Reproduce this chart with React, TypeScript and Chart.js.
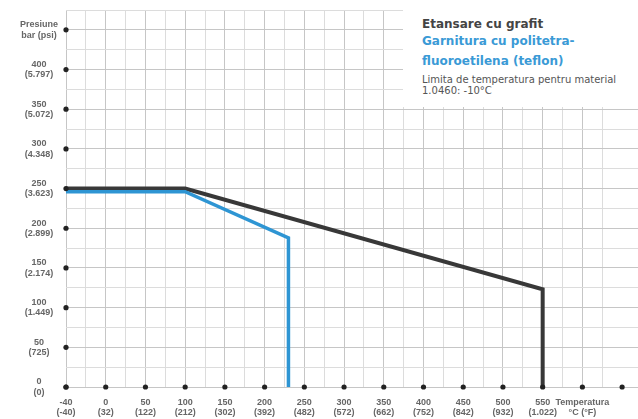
import React, { useEffect, useRef } from 'react';
import { Chart, registerables } from 'chart.js';

Chart.register(...registerables);

// Tick labels
const tempTicksC = ['-40', '0', '50', '100', '150', '200', '250', '300', '350', '400', '450', '500', '550', 'Temperatura', ''];
const tempTicksF = ['(-40)', '(32)', '(122)', '(212)', '(302)', '(392)', '(482)', '(572)', '(662)', '(752)', '(842)', '(932)', '(1.022)', '°C (°F)', ''];
const pressureTicksBar = ['0', '50', '100', '150', '200', '250', '300', '350', '400', 'Presiune'];
const pressureTicksPsi = ['(0)', '(725)', '(1.449)', '(2.174)', '(2.899)', '(3.623)', '(4.348)', '(5.072)', '(5.797)', 'bar (psi)'];

// Series: Etansare cu grafit
const graphiteTemp = [-40, 100, 550, 550];
const graphitePressure = [250, 250, 123, 0];
// Series: Garnitura cu politetrafluoroetilena (teflon)
const ptfeTemp = [-40, 100, 230, 230];
const ptfePressure = [246, 246, 188, 0];

// The temperature axis is drawn with equal spacing per tick: -40..0 and then 50 °C per step
const tempToAxis = (t: number) => (t <= 0 ? (t + 40) / 40 : 1 + t / 50);

const dotsPlugin = {
  id: 'axisDots',
  afterDraw(chart: any) {
    const { ctx, scales } = chart;
    const xs = scales.x;
    const ys = scales.y;
    ctx.save();
    ctx.fillStyle = '#222';
    const y0 = ys.getPixelForValue(0);
    const x0 = xs.getPixelForValue(0);
    for (let i = 0; i < tempTicksC.length; i++) {
      ctx.beginPath();
      ctx.arc(xs.getPixelForValue(i), y0, 2.6, 0, Math.PI * 2);
      ctx.fill();
    }
    for (let i = 0; i < pressureTicksBar.length; i++) {
      ctx.beginPath();
      ctx.arc(x0, ys.getPixelForValue(i * 50), 2.6, 0, Math.PI * 2);
      ctx.fill();
    }
    ctx.restore();
  },
};

export default function App() {
  const canvasRef = useRef<HTMLCanvasElement | null>(null);

  useEffect(() => {
    if (!canvasRef.current) return;
    const tickFont = { family: 'Liberation Sans', size: 9, weight: 'bold' as const, lineHeight: 1.15 };
    const chart = new Chart(canvasRef.current, {
      type: 'line',
      data: {
        datasets: [
          {
            label: 'Garnitura cu politetrafluoroetilena (teflon)',
            data: ptfeTemp.map((t, i) => ({ x: tempToAxis(t), y: ptfePressure[i] })),
            borderColor: '#2e95d3',
            borderWidth: 3.5,
            pointRadius: 0,
            tension: 0,
            clip: false,
            borderJoinStyle: 'miter',
          },
          {
            label: 'Etansare cu grafit',
            data: graphiteTemp.map((t, i) => ({ x: tempToAxis(t), y: graphitePressure[i] })),
            borderColor: '#383838',
            borderWidth: 4,
            pointRadius: 0,
            tension: 0,
            clip: false,
            borderJoinStyle: 'miter',
          },
        ],
      },
      options: {
        animation: false,
        responsive: true,
        maintainAspectRatio: false,
        layout: { padding: { top: 10, left: 0, right: 0, bottom: 0 } },
        plugins: {
          legend: { display: false },
          tooltip: { enabled: false },
        },
        scales: {
          x: {
            type: 'linear',
            min: 0,
            max: 14.4,
            border: { display: false },
            grid: {
              drawTicks: false,
              color: (c: any) => {
                const v = c.tick?.value;
                if (v === undefined) return 'transparent';
                if (Number.isInteger(v)) return '#c6c6c6';
                if (Number.isInteger(v * 2)) return '#dcdcdc';
                return 'transparent';
              },
            },
            ticks: {
              stepSize: 0.5,
              autoSkip: false,
              maxRotation: 0,
              padding: 10,
              color: '#666',
              font: tickFont,
              callback: (value: any) => {
                const v = Number(value);
                if (!Number.isInteger(v) || v < 0 || v >= tempTicksC.length) return '';
                if (!tempTicksC[v]) return '';
                return [tempTicksC[v], tempTicksF[v]];
              },
            },
            afterFit: (s: any) => {
              s.height = 32;
              s.paddingLeft = 0;
              s.paddingRight = 0;
            },
          },
          y: {
            type: 'linear',
            min: 0,
            max: 475,
            border: { display: false },
            grid: {
              drawTicks: false,
              color: (c: any) => {
                const v = c.tick?.value;
                if (v === undefined) return 'transparent';
                if (v % 50 === 0) return '#c6c6c6';
                if (v % 25 === 0) return '#dcdcdc';
                return 'transparent';
              },
            },
            ticks: {
              stepSize: 25,
              autoSkip: false,
              padding: 8,
              crossAlign: 'center',
              color: '#666',
              font: tickFont,
              callback: (value: any) => {
                const v = Number(value);
                if (v % 50 !== 0) return '';
                const i = v / 50;
                if (i >= pressureTicksBar.length) return '';
                return [pressureTicksBar[i], pressureTicksPsi[i]];
              },
            },
            afterFit: (s: any) => {
              s.width = 66;
              s.paddingTop = 0;
              s.paddingBottom = 0;
            },
          },
        },
      },
      plugins: [dotsPlugin],
    } as any);
    return () => chart.destroy();
  }, []);

  const legendFont = 'DejaVu Sans, Verdana, sans-serif';
  const line = (top: number, size: number, color: string, bold: boolean, text: string) => (
    <div
      style={{
        position: 'absolute',
        left: 19,
        top,
        fontSize: size,
        fontWeight: bold ? 'bold' : 'normal',
        color,
        lineHeight: '14px',
        whiteSpace: 'nowrap',
        fontFamily: legendFont,
      }}
    >
      {text}
    </div>
  );

  return (
    <div style={{ position: 'fixed', left: 0, top: 0, width: 638, height: 419, background: '#fff' }}>
      <canvas ref={canvasRef} width={638} height={419} />
      <div
        style={{
          position: 'absolute',
          left: 403,
          top: 10,
          width: 235,
          height: 97,
          background: '#fff',
        }}
      >
        {line(7, 12, '#444', true, 'Etansare cu grafit')}
        {line(24, 12, '#3a9ad6', true, 'Garnitura cu politetra-')}
        {line(44, 12, '#3a9ad6', true, 'fluoroetilena (teflon)')}
        {line(63, 10, '#555', false, 'Limita de temperatura pentru material')}
        {line(74, 10, '#555', false, '1.0460: -10°C')}
      </div>
    </div>
  );
}
